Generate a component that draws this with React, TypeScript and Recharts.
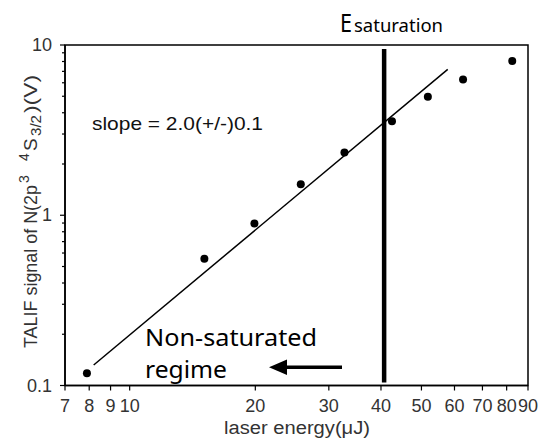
import React from "react";
import {
  ScatterChart,
  Scatter,
  XAxis,
  YAxis,
  ReferenceLine,
  ReferenceArea,
} from "recharts";

// measured points (laser energy in µJ, TALIF signal in V)
const energy = [7.9, 15.1, 19.9, 25.7, 32.7, 42.5, 51.8, 62.9, 82.5];
const signal = [0.118, 0.556, 0.894, 1.52, 2.34, 3.57, 4.97, 6.28, 8.05];

// fitted line end points (slope ~2)
const fitEnergy = [8.2, 57.8];
const fitSignal = [0.132, 7.19];

// saturation marker
const saturationEnergy = 40.7;
const saturationSpan = [0.104, 9.47];

const xTicks = [7, 8, 9, 10, 20, 30, 40, 50, 60, 70, 80, 90];
const yMajor = [0.1, 1, 10];
const yMinor = [0.2, 0.3, 0.4, 0.5, 0.6, 0.7, 0.8, 0.9, 2, 3, 4, 5, 6, 7, 8, 9];

const points = energy.map((x, i) => ({ x, y: signal[i] }));

const axisFont = "'Liberation Sans', Arial, sans-serif";
const noteFont = "'Noto Sans', 'Open Sans', sans-serif";

const YTick = (props: any) => {
  const { x, y, payload } = props;
  const major = yMajor.includes(payload.value);
  return (
    <g>
      <line
        x1={x + (major ? 8 : 10)}
        x2={x + 13}
        y1={y}
        y2={y}
        stroke="#000"
        strokeWidth={1.2}
      />
      {major && (
        <text
          x={x}
          y={y}
          dy={6}
          textAnchor="end"
          fontFamily={axisFont}
          fontSize={18}
          fill="#333"
        >
          {payload.value}
        </text>
      )}
    </g>
  );
};

const YLabel = () => (
  <g transform="translate(36.5,348) rotate(-90)" fontFamily={axisFont} fill="#333">
    <text x={0} y={0} fontSize={19} textLength={163} lengthAdjust="spacingAndGlyphs">
      TALIF signal of N(2p
    </text>
    <text x={165} y={-8} fontSize={14}>3</text>
    <text x={187} y={-8} fontSize={14}>4</text>
    <text x={197} y={0} fontSize={19}>S</text>
    <text x={212} y={4} fontSize={14} textLength={21} lengthAdjust="spacingAndGlyphs">
      3/2
    </text>
    <text x={235} y={0} fontSize={19} textLength={38} lengthAdjust="spacingAndGlyphs">
      )(V)
    </text>
  </g>
);

const XLabel = () => (
  <text
    x={224}
    y={434}
    fontFamily={axisFont}
    fontSize={18}
    fill="#333"
    textLength={146}
    lengthAdjust="spacingAndGlyphs"
  >
    laser energy(μJ)
  </text>
);

const Annotations = () => (
  <svg
    width={540}
    height={441}
    style={{ position: "absolute", left: 0, top: 0, pointerEvents: "none" }}
  >
    <text x={340} y={32} fontFamily={noteFont} fontSize={26} fill="#000" textLength={12} lengthAdjust="spacingAndGlyphs">
      E
    </text>
    <text x={354} y={32} fontFamily={noteFont} fontSize={18.5} fill="#000" textLength={89} lengthAdjust="spacingAndGlyphs">
      saturation
    </text>
    <text x={92} y={130} fontFamily={axisFont} fontSize={19} fill="#111" textLength={171} lengthAdjust="spacingAndGlyphs">
      slope = 2.0(+/-)0.1
    </text>
    <text x={145} y={346} fontFamily={noteFont} fontSize={23} fill="#000" textLength={172} lengthAdjust="spacingAndGlyphs">
      Non-saturated
    </text>
    <text x={145} y={378} fontFamily={noteFont} fontSize={23} fill="#000" textLength={82} lengthAdjust="spacingAndGlyphs">
      regime
    </text>
    <line x1={342} x2={284} y1={367.3} y2={367.3} stroke="#000" strokeWidth={3.5} />
    <polygon points="269,367.3 287,359.5 287,375" fill="#000" />
  </svg>
);

export default function App() {
  return (
    <div style={{ position: "absolute", left: 0, top: 0, width: 540, height: 441, background: "#fff" }}>
      <ScatterChart
        width={540}
        height={441}
        margin={{ top: 45, right: 12, left: 0, bottom: 0 }}
      >
        <XAxis
          dataKey="x"
          type="number"
          scale="log"
          domain={[7, 90]}
          ticks={xTicks}
          interval={0}
          height={55.5}
          tickSize={5}
          tickMargin={9}
          axisLine={{ stroke: "#000", strokeWidth: 1.5 }}
          tickLine={{ stroke: "#000", strokeWidth: 1.2 }}
          tick={{ fill: "#333", fontSize: 18, fontFamily: axisFont }}
          label={<XLabel />}
        />
        <YAxis
          dataKey="y"
          type="number"
          scale="log"
          domain={[0.1, 10]}
          ticks={[...yMajor, ...yMinor].sort((a, b) => a - b)}
          interval={0}
          width={65}
          tickSize={5}
          tickMargin={8}
          axisLine={{ stroke: "#000", strokeWidth: 1.5 }}
          tickLine={false}
          tick={<YTick />}
          label={<YLabel />}
        />
        <ReferenceArea
          x1={7}
          x2={90}
          y1={0.1}
          y2={10}
          fill="none"
          stroke="#000"
          strokeWidth={1.5}
          fillOpacity={0}
        />
        <ReferenceLine
          segment={[
            { x: fitEnergy[0], y: fitSignal[0] },
            { x: fitEnergy[1], y: fitSignal[1] },
          ]}
          stroke="#000"
          strokeWidth={1.5}
        />
        <ReferenceLine
          segment={[
            { x: saturationEnergy, y: saturationSpan[0] },
            { x: saturationEnergy, y: saturationSpan[1] },
          ]}
          stroke="#000"
          strokeWidth={4.5}
        />
        <Scatter
          data={points}
          isAnimationActive={false}
          shape={(p: any) => <circle cx={p.cx} cy={p.cy} r={4} fill="#000" />}
        />
      </ScatterChart>
      <Annotations />
    </div>
  );
}
